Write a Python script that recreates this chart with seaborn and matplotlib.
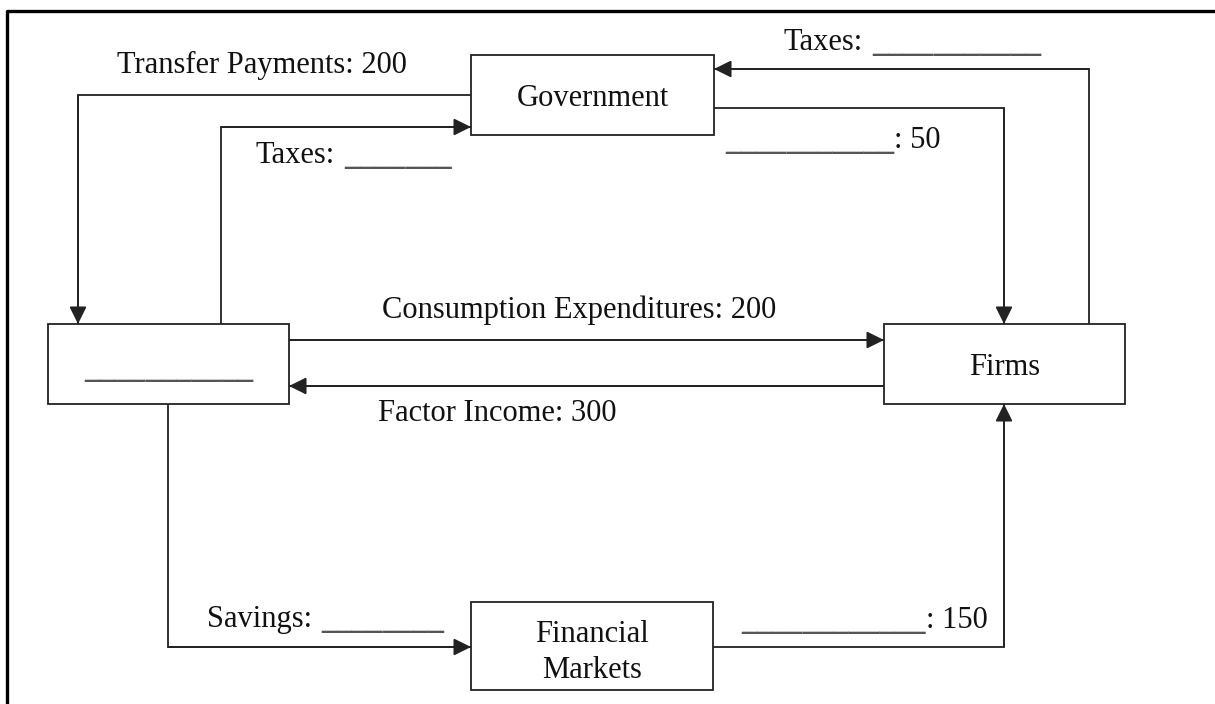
import pandas as pd
import numpy as np
import seaborn as sns
import matplotlib.pyplot as plt
from matplotlib.patches import Rectangle

# circular flow diagram - values as given on the worksheet ('' = blank to fill in)
box_names = ["Government", "", "Firms", "Financial\nMarkets"]
flow_names = ["Transfer Payments", "Taxes", "", "Taxes",
              "Consumption Expenditures", "Factor Income", "Savings", ""]
flow_values = ["200", "", "50", "", "200", "300", "", "150"]
blank_len = [0, 7, 11, 11, 0, 0, 8, 12]   # underscores used for a blank
box_blank_len = 11

sns.set_theme(style="white")
plt.rcParams['font.family'] = ['Liberation Serif', 'DejaVu Serif']
FS = 22
INK = "#222222"
TXT = "#111111"

# layout in pixel coords (y grows downward)
box_xy = [(471, 55, 714, 135), (48, 324, 289, 404),
          (884, 324, 1125, 404), (471, 602, 713, 690)]
paths = [
    [(471, 95), (78, 95), (78, 324)],
    [(221, 324), (221, 127), (471, 127)],
    [(714, 108), (1004, 108), (1004, 324)],
    [(1089, 324), (1089, 69), (714, 69)],
    [(289, 340), (884, 340)],
    [(884, 386), (289, 386)],
    [(168, 404), (168, 647), (471, 647)],
    [(713, 647), (1004, 647), (1004, 404)],
]
label_pos = [(117, 73), (256, 163), (725, 148), (784, 50),
             (382, 318), (378, 421), (207, 627), (741, 628)]

rows = []
for i, p in enumerate(paths):
    for k, (x, y) in enumerate(p):
        rows.append({"flow": i, "step": k, "x": x, "y": y})
df = pd.DataFrame(rows)

fig = plt.figure(figsize=(12.15, 7.04), dpi=100)
ax = fig.add_axes([0, 0, 1, 1])

sns.lineplot(data=df, x="x", y="y", units="flow", estimator=None, sort=False,
             color=INK, lw=1.3, ax=ax, legend=False)
ax.set_xlim(0, 1215)
ax.set_ylim(704, 0)

for p in paths:
    ax.annotate("", xy=p[-1], xytext=p[-2],
                arrowprops=dict(arrowstyle="-|>,head_length=10.5,head_width=5.2",
                                mutation_scale=1, color=INK, lw=1.3,
                                shrinkA=0, shrinkB=0))

renderer = fig.canvas.get_renderer()
inv = ax.transData.inverted()


def right_edge(t):
    bb = t.get_window_extent(renderer)
    return inv.transform((bb.x1, bb.y0))[0]


# blanks are drawn in DejaVu Sans so the underscores join into one rule
BLANK = dict(family="DejaVu Sans", fontsize=FS, color="#555555", va="baseline")
LIFT = -1

for (x0, y0, x1, y1), name in zip(box_xy, box_names):
    ax.add_patch(Rectangle((x0, y0), x1 - x0, y1 - y0, fill=True, fc="white",
                           ec=INK, lw=1.3, zorder=3))
    cx = (x0 + x1) / 2
    if not name:
        ax.text(cx, 375, "_" * box_blank_len, ha="center", zorder=4, **BLANK)
    elif "\n" in name:
        for j, line in enumerate(name.split("\n")):
            ax.text(cx, 642 + 36 * j, line, ha="center", va="baseline",
                    fontsize=FS, color=TXT, zorder=4)
    else:
        ax.text(cx, (y0 + y1) / 2 + 11, name, ha="center", va="baseline",
                fontsize=FS, color=TXT, zorder=4)

for name, val, n, (x, y) in zip(flow_names, flow_values, blank_len, label_pos):
    if name and val:
        ax.text(x, y, name + ": " + val, ha="left", va="baseline",
                fontsize=FS, color=TXT)
    elif name:
        t = ax.text(x, y, name + ":", ha="left", va="baseline",
                    fontsize=FS, color=TXT)
        ax.text(right_edge(t) + 9, y + LIFT, "_" * n, ha="left", **BLANK)
    else:
        t = ax.text(x, y + LIFT, "_" * n, ha="left", **BLANK)
        ax.text(right_edge(t), y, ": " + val, ha="left", va="baseline",
                fontsize=FS, color=TXT)

# page border (left and top)
ax.plot([6.5, 6.5, 1215], [704, 11, 11], color="black", lw=2.4,
        solid_capstyle="projecting")

ax.axis("off")
fig.savefig("out.png", dpi=100)
